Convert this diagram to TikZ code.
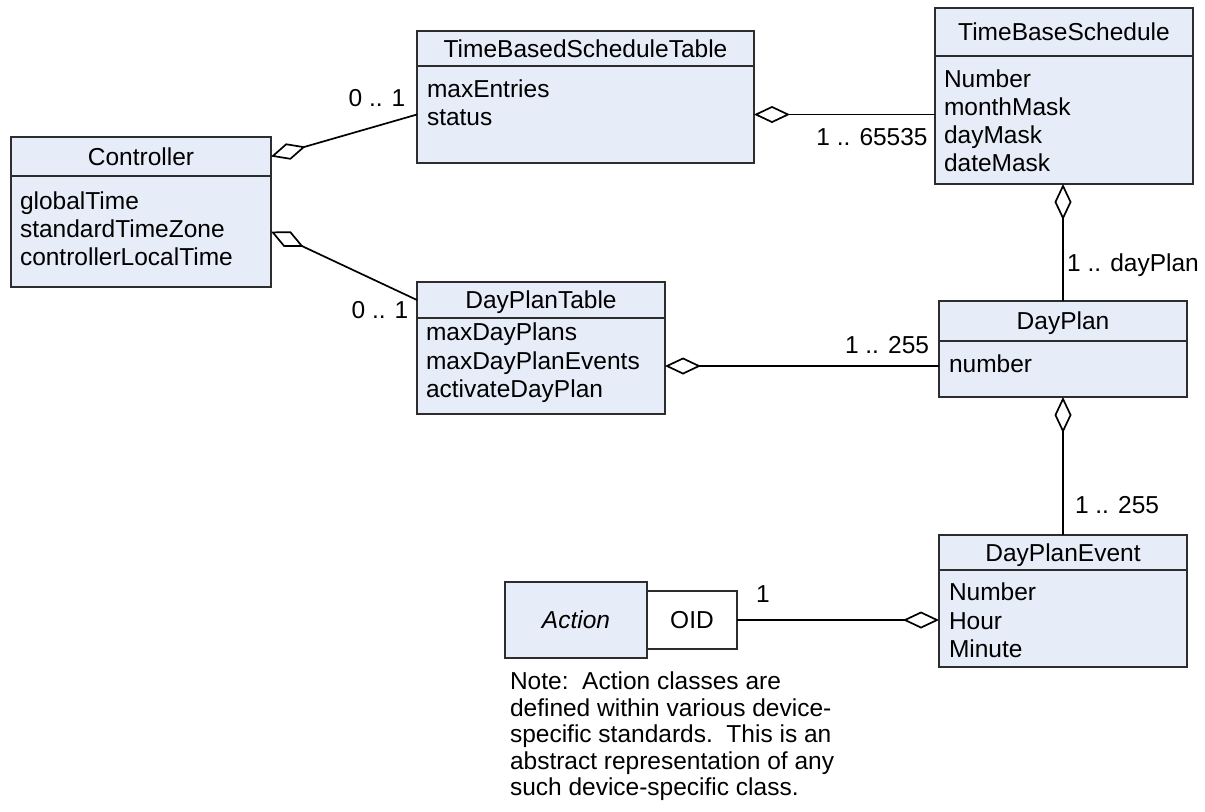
\documentclass[tikz,border=0pt]{standalone}
\usepackage{fontspec}
\setmainfont{Liberation Sans}
\usetikzlibrary{arrows.meta,calc}
\definecolor{boxfill}{RGB}{230,236,248}
\definecolor{boxline}{RGB}{45,45,45}
\newcommand\attrlist[5]{% name, x, first baseline, spacing, items
  \foreach \t [count=\i from 0] in {#5} {\node[txt] (#1\i) at (#2,{#3+#4*\i}) {\t};}}
\begin{document}
\begin{tikzpicture}[x=0.5pt,y=-0.5pt,
  every node/.style={font=\fontsize{12.25}{14}\selectfont, inner sep=0pt, outer sep=0pt},
  hdr/.style={draw=boxline, fill=boxfill, line width=0.7pt, anchor=north west, text height=8.8pt, text depth=0pt},
  bodybox/.style={draw=boxline, fill=boxfill, line width=0.7pt, anchor=north west},
  txt/.style={anchor=base west},
  mult/.style={anchor=center, text height=8.8pt, text depth=0pt},
  conn/.style={draw=black, line width=0.85pt},
  agg/.style={conn, -{Diamond[length=18pt, width=8.5pt, fill=white]}}
]
\useasboundingbox[fill=white] (0,0) rectangle (1205,811);

% Controller
\node[hdr, minimum width=130pt, minimum height=19.5pt] (ctrlH) at (11,137) {Controller};
\node[bodybox, minimum width=130pt, minimum height=55.5pt] (ctrl) at (11,176) {};
\attrlist{ctrlA}{20}{209.5}{28}{globalTime,standardTimeZone,controllerLocalTime}

% TimeBasedScheduleTable
\node[hdr, minimum width=168.5pt, minimum height=17.5pt] (tbstH) at (417,31) {TimeBasedScheduleTable};
\node[bodybox, minimum width=168.5pt, minimum height=48.5pt] (tbst) at (417,66) {};
\attrlist{tbstA}{427}{97.5}{28}{maxEntries,status}

% TimeBaseSchedule
\node[hdr, minimum width=129pt, minimum height=24pt] (tbsH) at (935,8) {TimeBaseSchedule};
\node[bodybox, minimum width=129pt, minimum height=64pt] (tbs) at (935,56) {};
\attrlist{tbsA}{944}{87.5}{28}{Number,monthMask,dayMask,dateMask}

% DayPlanTable
\node[hdr, minimum width=124pt, minimum height=18pt] (dptH) at (417,282) {DayPlanTable};
\node[bodybox, minimum width=124pt, minimum height=48pt] (dpt) at (417,318) {};
\attrlist{dptA}{426}{340.5}{28.5}{maxDayPlans,maxDayPlanEvents,activateDayPlan}

% DayPlan
\node[hdr, minimum width=124pt, minimum height=20pt] (dpH) at (939,301) {DayPlan};
\node[bodybox, minimum width=124pt, minimum height=28pt] (dp) at (939,341) {};
\attrlist{dpA}{949}{372.5}{28}{number}

% DayPlanEvent
\node[hdr, minimum width=124pt, minimum height=17.5pt] (dpeH) at (939,535) {DayPlanEvent};
\node[bodybox, minimum width=124pt, minimum height=48.5pt] (dpe) at (939,570) {};
\attrlist{dpeA}{949}{600.5}{28.5}{Number,Hour,Minute}

% Action + OID
\node[hdr, minimum width=71pt, minimum height=38pt] (act) at (505,582) {\itshape Action};
\node[hdr, fill=white, minimum width=45pt, minimum height=29pt] (oid) at (647,591) {OID};

% Note
\attrlist{note}{510}{689.5}{26.5}{{Note:\ \ Action classes are},{defined within various device-},{specific standards.\ \ This is an},{abstract representation of any},{such device-specific class.}}

% Connectors
\draw[agg] (tbst.west) -- (ctrlH.east);
\draw[agg] (dptH.west) -- (ctrl.east);
\draw[agg] (tbs.west |- tbst.east) -- (tbst.east);
\draw[agg] (dpH.north) -- (dpH.north |- tbs.south);
\draw[agg] (dp.west |- dpt.east) -- (dpt.east);
\draw[agg] (dpeH.north) -- (dp.south);
\draw[agg] (oid.east) -- (dpe.west |- oid.east);

% Multiplicities
\node[mult] (m1) at (377,98) {0 .. 1};
\node[mult] (m2) at (380,310) {0 .. 1};
\node[mult] (m3) at (872,137) {1 .. 65535};
\node[mult] (m4) at (1133,263) {1 .. dayPlan};
\node[mult] (m5) at (887,345) {1 .. 255};
\node[mult] (m6) at (1117,505) {1 .. 255};
\node[mult] (m7) at (763,594) {1};
\end{tikzpicture}
\end{document}
